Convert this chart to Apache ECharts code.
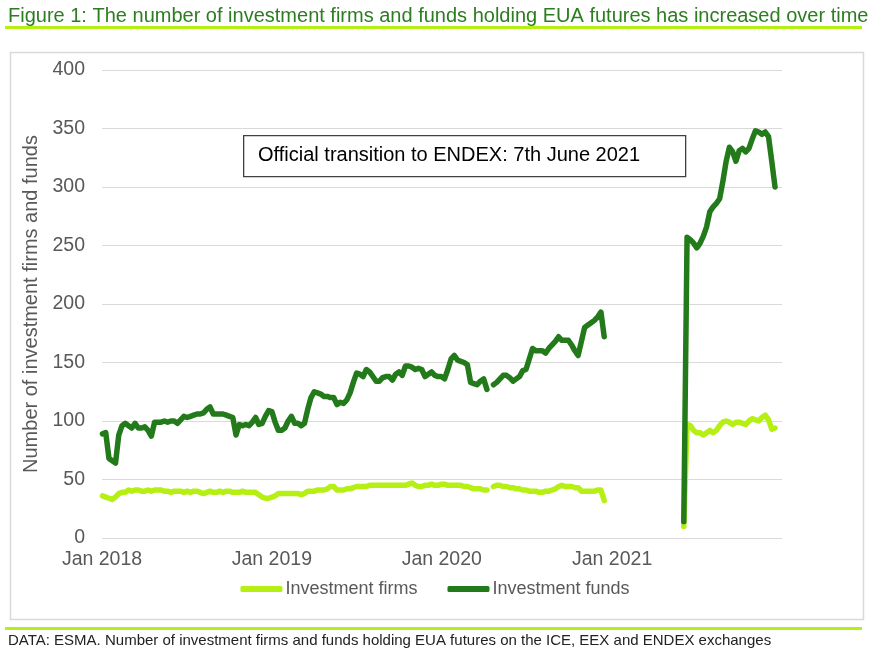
<!DOCTYPE html>
<html>
<head>
<meta charset="utf-8">
<script src="https://cdn.jsdelivr.net/npm/echarts@6/dist/echarts.min.js"></script>
<style>
  html, body { margin: 0; padding: 0; background: #fff; }
  #main { width: 870px; height: 653px; }
</style>
</head>
<body>
<div id="main"></div>
<script>
// weekly counts, first run starts 2 Jan 2018, second run starts 4 June 2021 (after ENDEX switch)
var start1 = '2018-01-02';
var start2 = '2021-06-04';

var firms1 = [36, 35, 34, 33, 35, 38, 39, 39, 41, 40, 41, 41, 40, 40, 41, 40, 41, 41, 41, 40,
  40, 39, 40, 40, 40, 39, 40, 39, 40, 40, 39, 38, 39, 40, 39, 39, 40, 39, 40, 40,
  39, 39, 39, 40, 39, 39, 39, 39, 37, 35, 34, 34, 35, 36, 38, 38, 38, 38, 38, 38,
  38, 37, 38, 40, 40, 40, 41, 41, 41, 42, 44, 44, 41, 41, 41, 42, 42, 43, 44, 44,
  44, 44, 45, 45, 45, 45, 45, 45, 45, 45, 45, 45, 45, 45, 46, 47, 45, 44, 44, 45,
  45, 46, 45, 45, 46, 46, 45, 45, 45, 45, 45, 44, 44, 43, 42, 42, 42, 41, 41, null,
  44, 45, 45, 44, 44, 43, 43, 42, 42, 41, 41, 40, 40, 40, 39, 39, 40, 40, 41, 42,
  44, 45, 44, 44, 44, 43, 43, 40, 40, 40, 40, 40, 41, 41, 32];

var funds1 = [89, 90, 68, 66, 64, 88, 96, 98, 96, 94, 98, 94, 94, 95, 92, 87, 99, 99, 99, 100,
  99, 100, 100, 98, 101, 104, 103, 104, 105, 106, 106, 107, 110, 112, 106, 106, 106, 106, 105, 104,
  103, 88, 97, 96, 97, 96, 99, 103, 97, 98, 104, 109, 108, 99, 92, 92, 94, 100, 104, 98,
  98, 96, 98, 110, 120, 125, 124, 123, 121, 121, 120, 120, 114, 116, 115, 118, 124, 133, 141, 140,
  138, 144, 142, 138, 134, 134, 137, 138, 138, 135, 140, 142, 139, 147, 147, 146, 144, 145, 144, 138,
  140, 142, 139, 138, 138, 136, 144, 153, 156, 152, 151, 150, 148, 133, 132, 131, 134, 136, 127, null,
  131, 133, 136, 139, 139, 137, 134, 136, 138, 143, 144, 153, 162, 160, 160, 160, 158, 162, 165, 168,
  172, 169, 169, 169, 165, 160, 156, 168, 180, 182, 184, 186, 189, 193, 172];

var firms2 = [10, 97, 96, 92, 90, 90, 88, 90, 92, 90, 92, 96, 99, 100, 99, 97, 99, 99, 98, 97,
  100, 102, 101, 100, 103, 105, 101, 93, 94];

var funds2 = [14, 257, 255, 252, 248, 252, 258, 266, 279, 283, 286, 290, 305, 322, 334, 330, 322, 331, 333, 330,
  333, 341, 348, 347, 345, 347, 343, 322, 300];

var yTicks = [0, 50, 100, 150, 200, 250, 300, 350, 400];
var xYears = [2018, 2019, 2020, 2021];

var DAY = 24 * 3600 * 1000;

function weekly(start, vals) {
  var t0 = new Date(start + 'T00:00:00').getTime();
  return vals.map(function (v, i) {
    return [t0 + i * 7 * DAY, v];
  });
}

// join the two runs with a null so the line breaks in the gap
function joined(a, b) {
  var d1 = weekly(start1, a);
  var d2 = weekly(start2, b);
  var gap = [(d1[d1.length - 1][0] + d2[0][0]) / 2, null];
  return d1.concat([gap], d2);
}

var firmsColor = '#b5ef14';
var fundsColor = '#237a1a';
var grey = '#595959';

var chart = echarts.init(document.getElementById('main'));
var option = {
  backgroundColor: '#fff',
  animation: false,
  textStyle: { fontFamily: 'Liberation Sans, Arial, sans-serif' },
  title: {
    text: 'Figure 1: The number of investment firms and funds holding EUA futures has increased over time',
    left: 3,
    top: 1,
    textStyle: { color: '#2c7d20', fontSize: 20, fontWeight: 'normal', fontFamily: 'Liberation Sans, Arial' }
  },
  grid: { left: 102, right: 88, top: 70, bottom: 115, containLabel: false },
  legend: {
    bottom: 50,
    left: 'center',
    itemWidth: 42,
    itemHeight: 6,
    itemGap: 30,
    icon: 'roundRect',
    textStyle: { color: grey, fontSize: 18, padding: [0, 0, 0, -2] },
    data: ['Investment firms', 'Investment funds']
  },
  xAxis: {
    type: 'time',
    min: new Date(xYears[0], 0, 1).getTime(),
    max: new Date(xYears[xYears.length - 1] + 1, 0, 1).getTime(),
    minInterval: 365 * DAY,
    axisLine: { show: false },
    axisTick: { show: false },
    splitLine: { show: false },
    axisLabel: {
      color: grey,
      fontSize: 19.5,
      margin: 12,
      showMaxLabel: false,
      formatter: function (val) {
        var y = new Date(val).getFullYear();
        return xYears.indexOf(y) >= 0 ? 'Jan ' + y : '';
      }
    }
  },
  yAxis: {
    type: 'value',
    min: yTicks[0],
    max: yTicks[yTicks.length - 1],
    interval: 50,
    name: 'Number of investment firms and funds',
    nameLocation: 'middle',
    nameGap: 60,
    nameTextStyle: { color: grey, fontSize: 20 },
    axisLine: { show: false },
    axisTick: { show: false },
    axisLabel: { color: grey, fontSize: 19.5, margin: 17 },
    splitLine: { lineStyle: { color: '#d9d9d9', width: 1 } }
  },
  series: [
    {
      name: 'Investment firms',
      type: 'line',
      data: joined(firms1, firms2),
      showSymbol: false,
      connectNulls: false,
      color: firmsColor,
      lineStyle: { width: 5.5, color: firmsColor, join: 'round', cap: 'round' }
    },
    {
      name: 'Investment funds',
      type: 'line',
      data: joined(funds1, funds2),
      showSymbol: false,
      connectNulls: false,
      color: fundsColor,
      lineStyle: { width: 5.5, color: fundsColor, join: 'round', cap: 'round' }
    }
  ],
  graphic: [
    // title underline
    { type: 'rect', left: 5, top: 26, shape: { width: 857, height: 3 }, style: { fill: '#b5ef14' }, silent: true },
    // chart frame
    { type: 'rect', left: 8, top: 50, shape: { width: 853, height: 567 }, style: { fill: 'none', stroke: '#d9d9d9', lineWidth: 1.5 }, silent: true },
    // annotation box
    { type: 'rect', left: 243, top: 135, shape: { width: 442, height: 41 }, style: { fill: '#fff', stroke: '#404040', lineWidth: 1.3 }, z: 10 },
    { type: 'text', left: 258, top: 145, style: { text: 'Official transition to ENDEX: 7th June 2021', fill: '#000', fontSize: 20, fontFamily: 'Liberation Sans, Arial' }, z: 11 },
    // footer line + source
    { type: 'rect', left: 5, top: 627, shape: { width: 857, height: 3 }, style: { fill: '#b5ef14' }, silent: true },
    { type: 'text', left: 8, top: 633, style: { text: 'DATA: ESMA. Number of investment firms and funds holding EUA futures on the ICE, EEX and ENDEX exchanges', fill: '#222', fontSize: 15, fontFamily: 'Liberation Sans, Arial' } }
  ]
};

chart.setOption(option);
window.onresize = chart.resize;
</script>
</body>
</html>
